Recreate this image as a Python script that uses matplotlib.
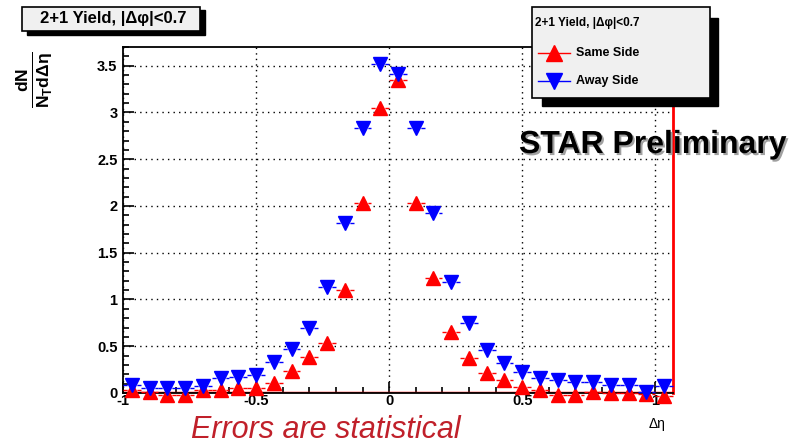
import matplotlib
matplotlib.use('Agg')
import matplotlib.pyplot as plt
import matplotlib.patheffects as pe
from matplotlib.patches import Rectangle
from matplotlib.lines import Line2D
from matplotlib.ticker import MultipleLocator, FuncFormatter
import numpy as np

plt.rcParams['font.family'] = ['Liberation Sans', 'DejaVu Sans']
plt.rcParams['mathtext.fontset'] = 'custom'
plt.rcParams['mathtext.rm'] = 'Liberation Sans'
plt.rcParams['mathtext.bf'] = 'Liberation Sans:bold'

# bin centres of delta-eta, 31 bins of width 2/30 starting at -1
bin_width = 2.0 / 30
eta = -1 + bin_width / 2 + bin_width * np.arange(31)

same_side = [0.03, 0.01, -0.02, -0.02, 0.03, 0.03, 0.05, 0.05, 0.11, 0.24, 0.39,
             0.53, 1.10, 2.03, 3.05, 3.35, 2.03, 1.23, 0.65, 0.37, 0.21,
             0.14, 0.06, 0.03, -0.02, -0.02, 0.01, 0.0, 0.0, -0.01, -0.03]
away_side = [0.09, 0.05, 0.05, 0.05, 0.08, 0.16, 0.17, 0.19, 0.33, 0.47, 0.70,
             1.13, 1.82, 2.83, 3.52, 3.41, 2.83, 1.93, 1.19, 0.75, 0.46,
             0.32, 0.22, 0.16, 0.14, 0.12, 0.12, 0.09, 0.09, 0.01, 0.07]
stat_err = 0.04

W, H = 806, 446
fig = plt.figure(figsize=(W / 100, H / 100), dpi=100)
ax = fig.add_axes([123 / W, 1 - 393 / H, 550 / W, 346 / H])


def fx(px):
    return px / W


def fy(py):
    return 1 - py / H


ax.set_xlim(-1, 1 + bin_width)
ax.set_ylim(0, 3.7)
ax.grid(True, color='black', linestyle=(0, (1, 3)), linewidth=1)
ax.set_axisbelow(True)
ax.xaxis.set_major_locator(MultipleLocator(0.5))
ax.xaxis.set_minor_locator(MultipleLocator(0.1))
ax.yaxis.set_major_locator(MultipleLocator(0.5))
ax.yaxis.set_minor_locator(MultipleLocator(0.1))
ax.tick_params(which='both', direction='in', top=False, right=False, width=1.2, color='black')
ax.tick_params(which='major', length=8, labelsize=10.5)
ax.tick_params(which='minor', length=4)
ax.xaxis.set_major_formatter(FuncFormatter(lambda v, p: f'{v:g}'))
ax.yaxis.set_major_formatter(FuncFormatter(lambda v, p: f'{v:g}'))
ax.tick_params(axis='x', pad=1)
ax.tick_params(axis='y', pad=4)
for lab in ax.get_xticklabels() + ax.get_yticklabels():
    lab.set_fontweight('bold')

ax.axhline(0, color='red', linewidth=2.5, zorder=2)
ax.spines['right'].set_color('red')
ax.spines['right'].set_linewidth(2)
ax.spines['top'].set_visible(False)
for s in ['left', 'bottom']:
    ax.spines[s].set_linewidth(1.3)

for vals, col, mk, z in [(same_side, 'red', '^', 3), (away_side, 'blue', 'v', 4)]:
    eb = ax.errorbar(eta, vals, xerr=bin_width / 2, yerr=stat_err, fmt=mk, color=col,
                     markersize=10, elinewidth=1, capsize=0, zorder=z, clip_on=False)
    eb[2][0].set_linestyle((0, (3, 2)))

# frame top line
ax.plot([0, 1], [1, 1], transform=ax.transAxes, color='black', lw=1.3, clip_on=False)

# title box with shadow
fig.add_artist(Rectangle((fx(27), fy(35)), fx(178), 25 / H, transform=fig.transFigure,
                         facecolor='black', edgecolor='black', zorder=5))
fig.add_artist(Rectangle((fx(22), fy(31)), fx(178), 24 / H, transform=fig.transFigure,
                         facecolor='#f0f0f0', edgecolor='black', lw=1.2, zorder=6))
fig.text(fx(113), fy(19), '2+1 Yield, |Δφ|<0.7', ha='center', va='center',
         fontsize=12, fontweight='bold', zorder=7)

# legend box with shadow
fig.add_artist(Rectangle((fx(542), fy(106)), fx(176), 88 / H, transform=fig.transFigure,
                         facecolor='black', edgecolor='black', zorder=5))
fig.add_artist(Rectangle((fx(532), fy(98)), fx(178), 91 / H, transform=fig.transFigure,
                         facecolor='#f0f0f0', edgecolor='black', lw=1.2, zorder=6))
fig.text(fx(535), fy(23), '2+1 Yield, |Δφ|<0.7', ha='left', va='center',
         fontsize=8.5, fontweight='bold', zorder=7)
for py, col, mk, lab in [(53, 'red', '^', 'Same Side'), (81, 'blue', 'v', 'Away Side')]:
    fig.add_artist(Line2D([fx(538), fx(570)], [fy(py), fy(py)], color=col, lw=1,
                          transform=fig.transFigure, zorder=7))
    fig.add_artist(Line2D([fx(554)], [fy(py)], marker=mk, color=col, markersize=11,
                          transform=fig.transFigure, zorder=8))
    fig.text(fx(576), fy(py), lab, ha='left', va='center', fontsize=9,
             fontweight='bold', zorder=8)

# y axis label
fig.text(fx(34), fy(80), r'$\mathbf{\frac{dN}{N_{T}d\Delta\eta}}$', rotation=90,
         ha='center', va='center', fontsize=18)
# x axis label
fig.text(fx(657), fy(424), 'Δη', ha='center', va='center', fontsize=10)

fig.text(fx(519), fy(145), 'STAR Preliminary', ha='left', va='center',
         fontsize=23, fontweight='bold', color='black', zorder=9,
         path_effects=[pe.withSimplePatchShadow(offset=(1.5, -1.5), shadow_rgbFace='#888888', alpha=0.8)])

fig.text(fx(326), fy(430), 'Errors are statistical', ha='center', va='center',
         fontsize=22, style='italic', color='#c0202a')

fig.savefig('out.png', dpi=100)
